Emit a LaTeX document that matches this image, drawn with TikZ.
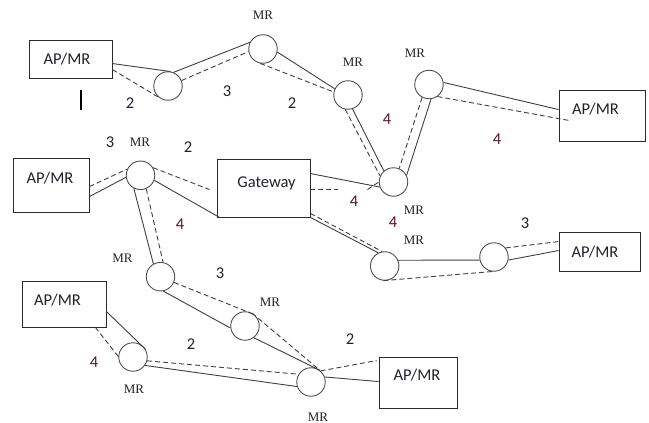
\documentclass[tikz,border=0pt]{standalone}
\usepackage{fontspec}
\setmainfont{Carlito}
\newfontfamily\serifmr{Liberation Serif}
\usetikzlibrary{calc}
\definecolor{linecol}{HTML}{404040}
\definecolor{circcol}{HTML}{505050}
\definecolor{boxcol}{HTML}{2A2A2A}
\definecolor{txtcol}{HTML}{22222C}
\definecolor{fourcol}{HTML}{561820}
\begin{document}
\begin{tikzpicture}[x=1pt,y=-1pt,
  mr/.style={circle, draw=circcol, line width=0.9pt, minimum size=28.5pt, inner sep=0pt},
  box/.style={draw=boxcol, line width=0.9pt, inner sep=0pt},
  sl/.style={draw=linecol, line width=0.9pt},
  dl/.style={draw=linecol, line width=0.9pt, dash pattern=on 5pt off 3pt},
  txt/.style={font=\fontsize{16.5}{18}\selectfont, text=txtcol, inner sep=0pt, text depth=0pt},
  numc/.style={txt},
  numf/.style={txt, text=fourcol},
  mrl/.style={font=\serifmr\fontsize{13}{14}\selectfont, inner sep=0pt, text depth=0pt, text=txtcol}]
\fill[white] (0,0) rectangle (649,423);
\useasboundingbox (0,0) rectangle (649,423);

% boxes
\node[box, minimum width=83pt, minimum height=38pt] (b1) at (70.5,59) {};
\node[box, minimum width=86pt, minimum height=51pt] (b2) at (602,115.5) {};
\node[box, minimum width=76pt, minimum height=54pt] (b3) at (51,185) {};
\node[box, minimum width=93pt, minimum height=58pt] (gw) at (263.5,188) {};
\node[box, minimum width=81pt, minimum height=39pt] (b4) at (599.5,251.5) {};
\node[box, minimum width=84pt, minimum height=46pt] (b5) at (64,304) {};
\node[box, minimum width=78pt, minimum height=51pt] (b6) at (418,382.5) {};

\node[txt] (t1) at (67,59) {AP/MR};
\node[txt] (t2) at (595.5,109) {AP/MR};
\node[txt] (t3) at (50,178) {AP/MR};
\node[txt] (tg) at (266.5,182.5) {Gateway};
\node[txt] (t4) at (595,252) {AP/MR};
\node[txt] (t5) at (57.5,300) {AP/MR};
\node[txt] (t6) at (417,374.5) {AP/MR};

% routers
\node[mr] (c1) at (168,86) {};
\node[mr] (c2) at (263,49) {};
\node[mr] (c3) at (348,95) {};
\node[mr] (c4) at (429,84.5) {};
\node[mr] (c5) at (393.5,182) {};
\node[mr] (c6) at (140.5,175.3) {};
\node[mr] (c7) at (160.5,276.7) {};
\node[mr] (c8) at (384.7,266) {};
\node[mr] (c9) at (494,257) {};
\node[mr] (c10) at (245,326) {};
\node[mr] (c11) at (133,357) {};
\node[mr] (c12) at (311,382) {};

% MR labels
\node[mrl] (m2) at (263,15) {MR};
\node[mrl] (m3) at (353,62) {MR};
\node[mrl] (m4) at (415,53) {MR};
\node[mrl] (m6) at (140,142.5) {MR};
\node[mrl] (m5) at (414,210) {MR};
\node[mrl] (m8) at (414,240.5) {MR};
\node[mrl] (m7) at (122.5,258) {MR};
\node[mrl] (m10) at (270,302) {MR};
\node[mrl] (m11) at (134,389) {MR};
\node[mrl] (m12) at (318,417) {MR};

% numbers
\node[numc] (n1) at (130,103) {2};
\node[numc] (n2) at (227,91) {3};
\node[numc] (n3) at (292,103) {2};
\node[numf] (n4) at (387,119) {4};
\node[numf] (n5) at (497,139) {4};
\node[numc] (n6) at (110,142) {3};
\node[numc] (n7) at (188,147) {2};
\node[numf] (n8) at (180,224) {4};
\node[numf] (n9) at (354,201) {4};
\node[numf] (n10) at (393,222) {4};
\node[numc] (n11) at (525,223) {3};
\node[numc] (n12) at (220,273) {3};
\node[numc] (n13) at (191,344) {2};
\node[numf] (n14) at (94,362) {4};
\node[numc] (n15) at (350,339) {2};

% stray bar
\draw[line width=1.8pt, black] (81,90) -- (81,110);

% links
\draw[sl] ($(b1.north east)+(0,24)$) -- (c1.80);
\draw[dl] ($(b1.north east)+(0,30)$) -- (c1.230);
\draw[sl] (c1.68) -- (c2.153);
\draw[dl] (c1.22) -- (c2.190);
\draw[sl] (c2.-12) -- (c3.155);
\draw[dl] (c2.-101) -- (c3.168);
\draw[sl] (c3.-72) -- (c5.131);
\draw[dl] (c3.-101) -- (c5.156);
\draw[sl] (c4.-82) -- (c5.27);
\draw[dl] (c4.-118) -- (c5.67);
\draw[sl] (c4.8) -- ($(b2.north west)+(0,20)$);
\draw[dl] (c4.-55) -- ($(b2.north west)+(11,31)$);

\coordinate (g1) at ($(gw.north east)+(28,31)$);
\coordinate (g2) at ($(gw.north east)+(57,31)$);
\draw[sl] ($(gw.north east)+(0,15)$) -- (c5.200);
\draw[dl] ($(gw.north east)+(0,31)$) -- (g1);
\draw[dl] (g2) -- (c5.180);

\draw[sl] ($(b3.north east)+(0,39)$) -- (c6.188);
\draw[dl] ($(b3.north east)+(0,29)$) -- (c6.155);
\draw[sl] (c6.-20) -- ($(gw.south west)+(3,0)$);
\draw[dl] (c6.31) -- ($(gw.north west)+(-7,31)$);
\draw[sl] (c6.-117) -- (c7.119);
\draw[dl] (c6.-67) -- (c7.80);

\draw[sl] (gw.south east) -- (c8.116);
\draw[dl] ($(gw.south east)+(0,-4)$) -- (c8.100);
\draw[sl] (c8.23) -- (c9.192);
\draw[dl] (c8.-95) -- (c9.-98);
\draw[sl] (c9.-12) -- ($(b4.north west)+(0,19)$);
\draw[dl] (c9.38) -- ($(b4.north west)+(0,10)$);

\draw[sl] (c7.-79) -- (c10.188);
\draw[dl] (c7.-23) -- (c10.52);
\draw[sl] (c10.-53) -- (c12.53);
\draw[dl] (c10.61) -- (c12.52);
\draw[sl] (c12.20) -- ($(b6.north west)+(0,25)$);
\draw[dl] (c12.49) -- ($(b6.north west)+(-2,4)$);
\draw[sl] (c11.-35) -- (c12.198);
\draw[dl] (c11.-15) -- (c12.148);
\draw[sl] ($(b5.north east)+(0,31)$) -- (c11.32);
\draw[dl] ($(b5.south east)+(-11,0)$) -- (c11.178);
\end{tikzpicture}
\end{document}
